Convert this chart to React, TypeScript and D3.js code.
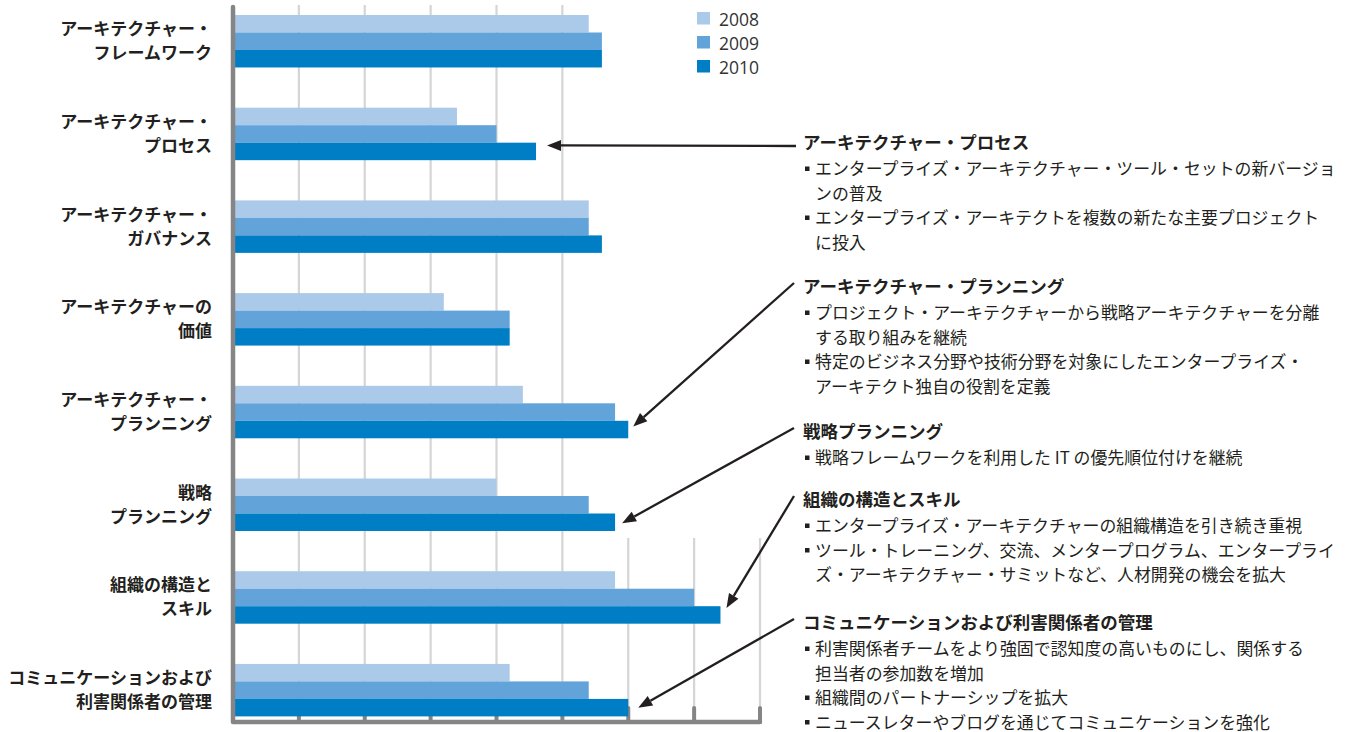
import React from "react";
import * as d3 from "d3";

const categories: string[][] = [
  ["アーキテクチャー・", "フレームワーク"],
  ["アーキテクチャー・", "プロセス"],
  ["アーキテクチャー・", "ガバナンス"],
  ["アーキテクチャーの", "価値"],
  ["アーキテクチャー・", "プランニング"],
  ["戦略", "プランニング"],
  ["組織の構造と", "スキル"],
  ["コミュニケーションおよび", "利害関係者の管理"],
];
const seriesNames = ["2008", "2009", "2010"];
const values2008 = [2.7, 1.7, 2.7, 1.6, 2.2, 2.0, 2.9, 2.1];
const values2009 = [2.8, 2.0, 2.7, 2.1, 2.9, 2.7, 3.5, 2.7];
const values2010 = [2.8, 2.3, 2.8, 2.1, 3.0, 2.9, 3.7, 3.0];
const xTicks = [0.5, 1, 1.5, 2, 2.5, 3, 3.5, 4];
const colors = ["#abc9e9", "#62a4d9", "#007ec5"];

const annotationTitles = [
  "アーキテクチャー・プロセス",
  "アーキテクチャー・プランニング",
  "戦略プランニング",
  "組織の構造とスキル",
  "コミュニケーションおよび利害関係者の管理",
];
const annotationBullets: string[][][] = [
  [
    ["エンタープライズ・アーキテクチャー・ツール・セットの新バージョ", "ンの普及"],
    ["エンタープライズ・アーキテクトを複数の新たな主要プロジェクト", "に投入"],
  ],
  [
    ["プロジェクト・アーキテクチャーから戦略アーキテクチャーを分離", "する取り組みを継続"],
    ["特定のビジネス分野や技術分野を対象にしたエンタープライズ・", "アーキテクト独自の役割を定義"],
  ],
  [["戦略フレームワークを利用した IT の優先順位付けを継続"]],
  [
    ["エンタープライズ・アーキテクチャーの組織構造を引き続き重視"],
    ["ツール・トレーニング、交流、メンタープログラム、エンタープライ", "ズ・アーキテクチャー・サミットなど、人材開発の機会を拡大"],
  ],
  [
    ["利害関係者チームをより強固で認知度の高いものにし、関係する", "担当者の参加数を増加"],
    ["組織間のパートナーシップを拡大"],
    ["ニュースレターやブログを通じてコミュニケーションを強化"],
  ],
];
// which category each annotation points at
const annotationTargets = [1, 4, 5, 6, 7];
const annotationTitleY = [143, 287, 432, 500, 623];
const arrowTipDy = [-6, -3, 1, -7, 0];
const arrowTipDx = [11, 5, 7, 6, 10];

const W = 1349;
const H = 732;
const FONT = "'Noto Sans CJK JP', 'Noto Sans', sans-serif";
const TEXT = "#231f20";

export default function App() {
  const x = d3.scaleLinear().domain([0, 4]).range([233, 760]);
  const y = d3
    .scaleBand<number>()
    .domain(d3.range(categories.length))
    .range([15, 716.4])
    .paddingInner(0.434)
    .paddingOuter(0);
  const ySub = d3
    .scaleBand<number>()
    .domain([0, 1, 2])
    .range([0, y.bandwidth()])
    .padding(0);
  const series = [values2008, values2009, values2010];

  const axisY = 722;
  const annX = 803;
  const lineH = 24.5;
  const firstGap = 26;
  const labelFs = 17;
  const titleFs = 17.5;
  const bulletFs = 16.9;

  return (
    <svg
      width={W}
      height={H}
      style={{ position: "absolute", left: 0, top: 0, background: "#fff" }}
      fontFamily={FONT}
    >
      {/* gridlines */}
      {xTicks.map((t) => (
        <line
          key={"g" + t}
          x1={x(t)}
          x2={x(t)}
          y1={t > 2.5 ? 538 : 5}
          y2={axisY}
          stroke="#d5d5d5"
          strokeWidth={2.2}
        />
      ))}
      {/* ticks */}
      {xTicks.map((t) => (
        <line
          key={"t" + t}
          x1={x(t)}
          x2={x(t)}
          y1={708}
          y2={axisY}
          stroke="#858585"
          strokeWidth={4}
          strokeLinecap="round"
        />
      ))}
      {/* bars */}
      {categories.map((_, i) =>
        series.map((vals, s) => (
          <rect
            key={`b${i}-${s}`}
            x={x(0)}
            y={(y(i) as number) + (ySub(s) as number)}
            width={x(vals[i]) - x(0)}
            height={ySub.bandwidth()}
            fill={colors[s]}
          />
        ))
      )}
      {/* axes */}
      <path
        d={`M${x(0)},7 L${x(0)},${axisY} L${x(4)},${axisY}`}
        fill="none"
        stroke="#858585"
        strokeWidth={4.5}
        strokeLinecap="round"
        strokeLinejoin="round"
      />
      {/* category labels */}
      {categories.map((lines, i) => {
        const cy = (y(i) as number) + y.bandwidth() / 2;
        return (
          <text
            key={"c" + i}
            x={212}
            textAnchor="end"
            fontSize={labelFs}
            fontWeight="bold"
            fill={TEXT}
          >
            <tspan x={212} y={cy - 12 + 6}>{lines[0]}</tspan>
            <tspan x={212} y={cy + 12 + 6}>{lines[1]}</tspan>
          </text>
        );
      })}
      {/* legend */}
      {seriesNames.map((n, s) => (
        <g key={"l" + n}>
          <rect x={697} y={12 + s * 24} width={13} height={12.5} fill={colors[s]} />
          <text
            x={719}
            y={26 + s * 24}
            fontSize={17.5}
            fontFamily="'Open Sans', sans-serif"
            fill="#333"
          >
            {n}
          </text>
        </g>
      ))}
      {/* annotations */}
      {annotationTitles.map((title, a) => {
        const ty = annotationTitleY[a];
        let lineIdx = 0;
        const cat = annotationTargets[a];
        const barCy =
          (y(cat) as number) + (ySub(2) as number) + ySub.bandwidth() / 2;
        const tip: [number, number] = [
          x(values2010[cat]) + arrowTipDx[a],
          barCy + arrowTipDy[a],
        ];
        const start: [number, number] =
          a === 0 ? [796, ty + 3] : [794, ty - 4];
        const ang = Math.atan2(start[1] - tip[1], start[0] - tip[0]);
        const L = 14;
        const Wh = 5.5;
        const bx = tip[0] + L * Math.cos(ang);
        const by = tip[1] + L * Math.sin(ang);
        const p1 = [bx - Wh * Math.sin(ang), by + Wh * Math.cos(ang)];
        const p2 = [bx + Wh * Math.sin(ang), by - Wh * Math.cos(ang)];
        return (
          <g key={"a" + a}>
            <line
              x1={start[0]}
              y1={start[1]}
              x2={bx}
              y2={by}
              stroke={TEXT}
              strokeWidth={2.3}
            />
            <polygon
              points={`${tip[0]},${tip[1]} ${p1[0]},${p1[1]} ${p2[0]},${p2[1]}`}
              fill={TEXT}
            />
            <text
              x={annX}
              y={ty + 6}
              fontSize={titleFs}
              fontWeight="bold"
              fill={TEXT}
            >
              {title}
            </text>
            {annotationBullets[a].map((bullet, b) =>
              bullet.map((ln, k) => {
                const cy = ty + firstGap + lineIdx * lineH;
                lineIdx++;
                return (
                  <g key={`ab${a}-${b}-${k}`}>
                    {k === 0 && (
                      <rect x={805} y={cy - 2.5} width={4.5} height={4.5} fill={TEXT} />
                    )}
                    <text x={815} y={cy + 6} fontSize={bulletFs} fill={TEXT}>
                      {ln}
                    </text>
                  </g>
                );
              })
            )}
          </g>
        );
      })}
    </svg>
  );
}
